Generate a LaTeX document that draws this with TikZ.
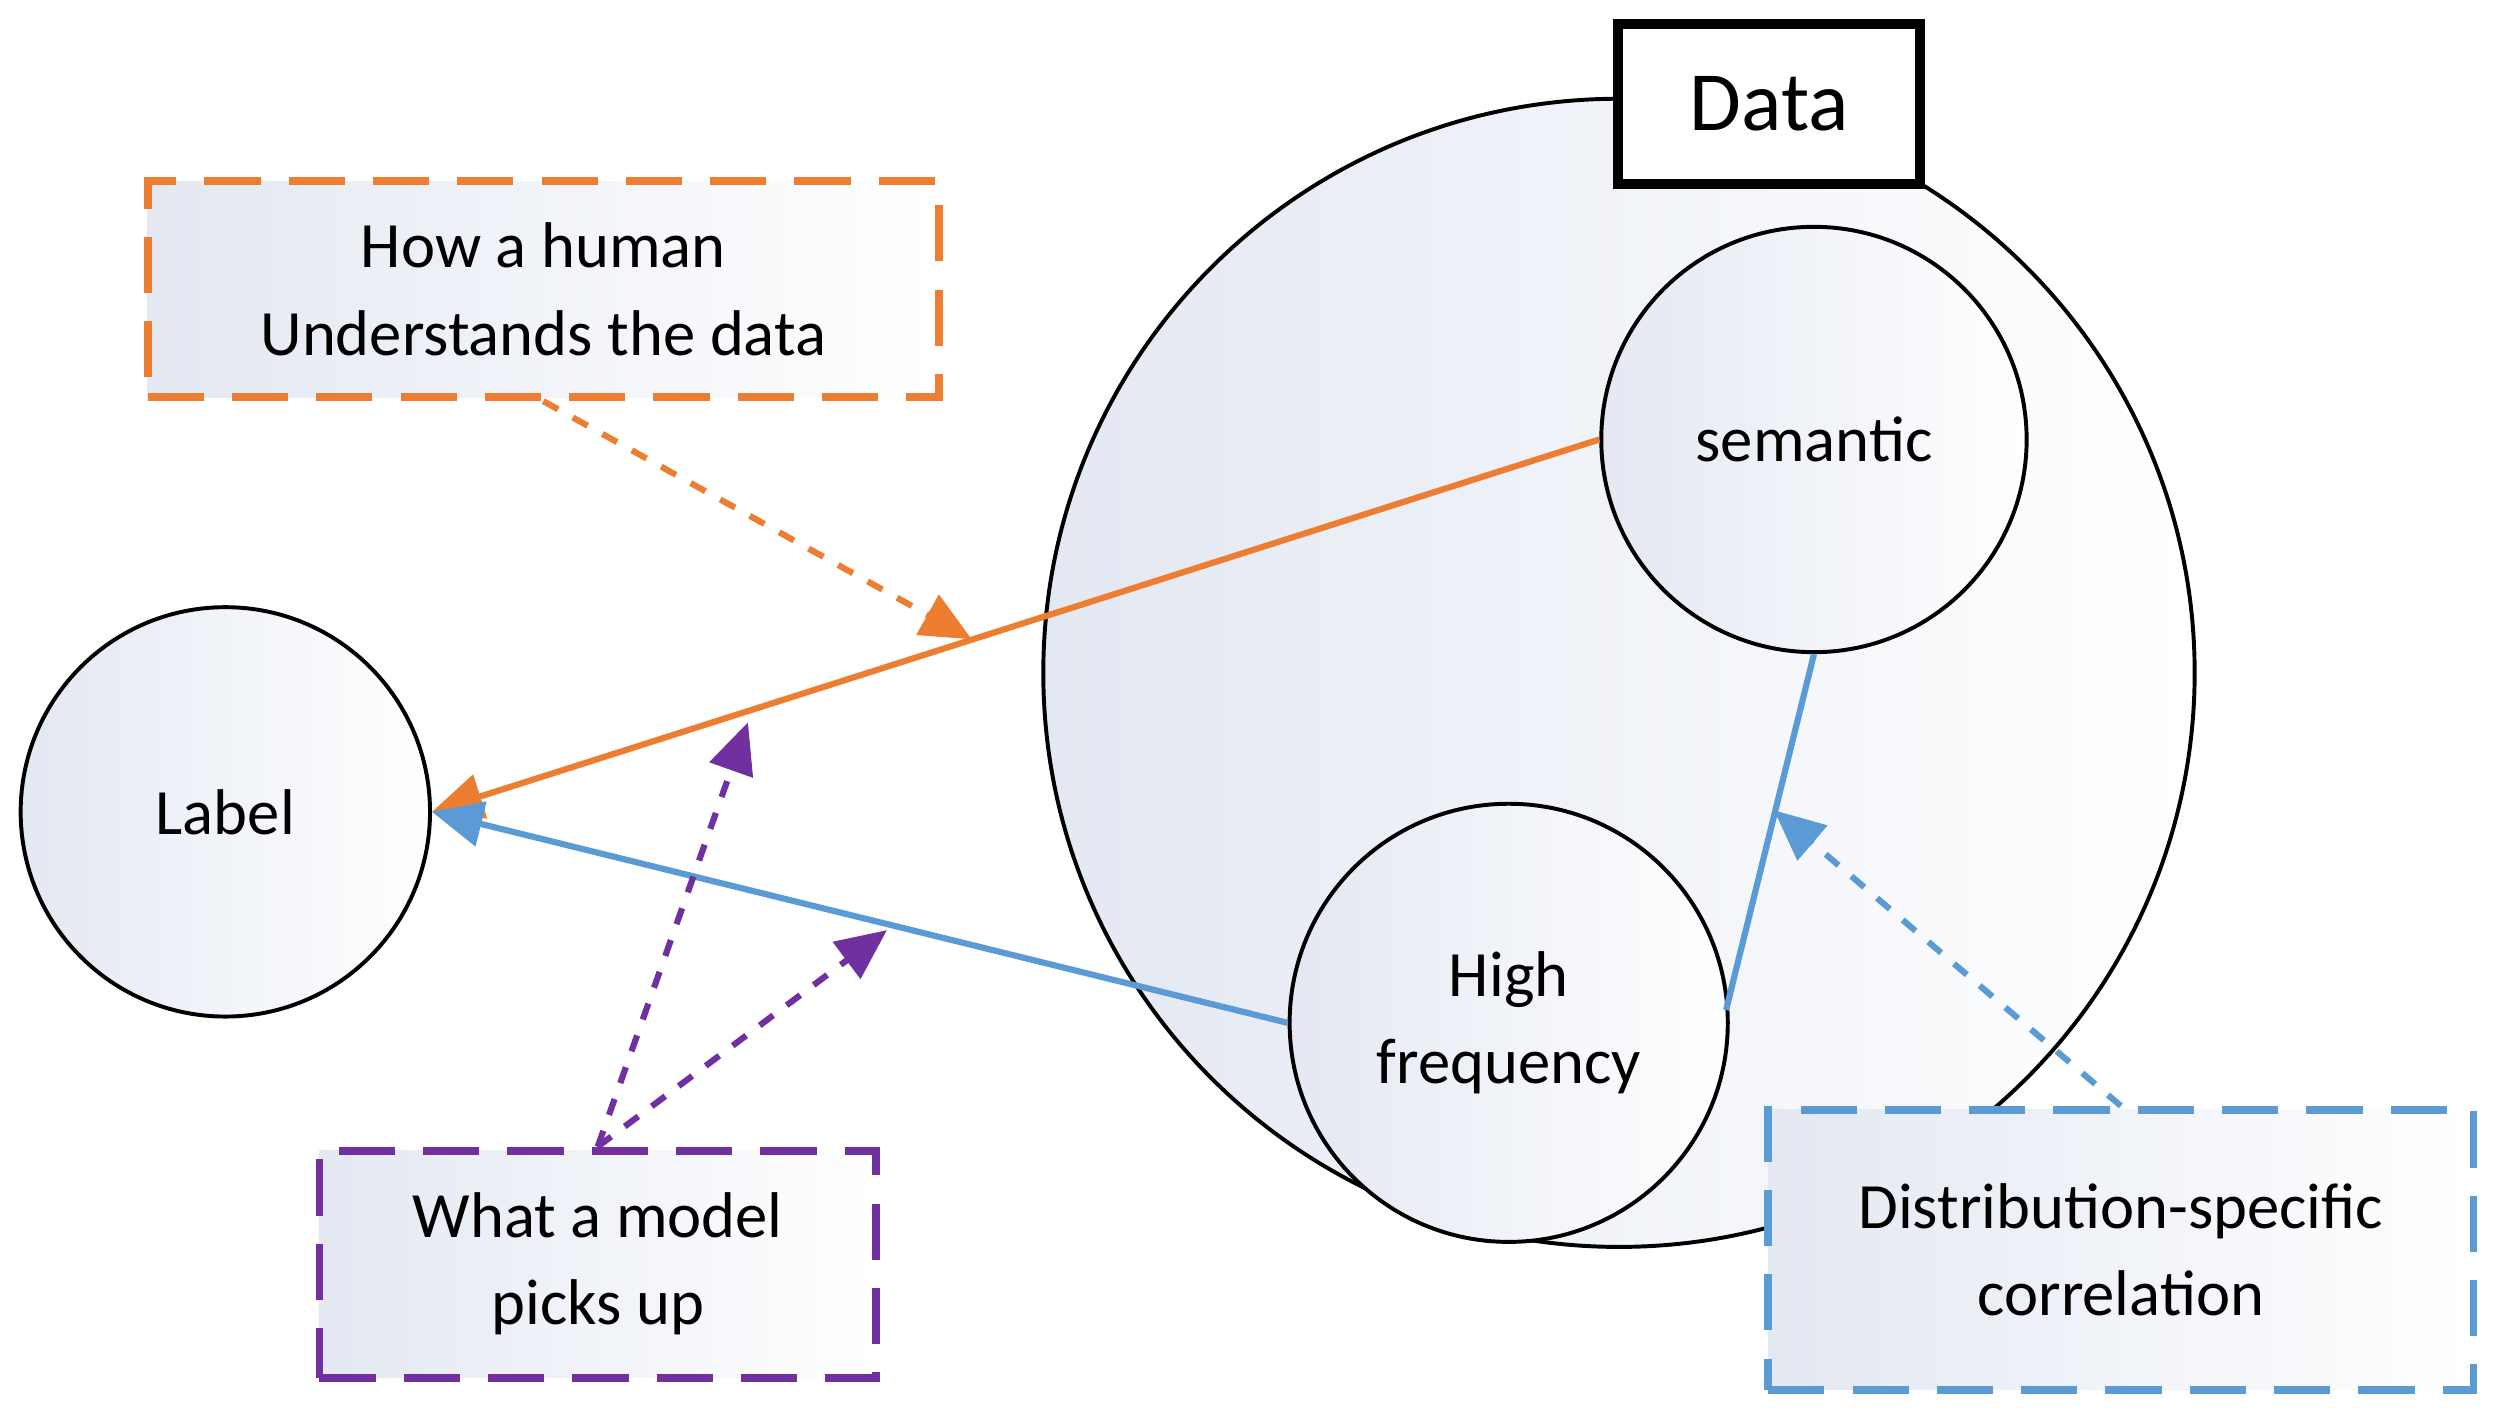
\documentclass[tikz,border=0pt]{standalone}
\usepackage{fontspec}
\setmainfont{Carlito}
\usetikzlibrary{arrows.meta,shapes.geometric}
\definecolor{org}{HTML}{ED7D31}
\definecolor{blu}{HTML}{5B9BD5}
\definecolor{pur}{HTML}{7030A0}
\definecolor{shd}{HTML}{E3E8F2}
\begin{document}
\begin{tikzpicture}[x=0.01cm,y=-0.01cm,
  shd/.style={left color=shd,right color=white},
  circ/.style={circle,draw=black,line width=0.7pt,shd,align=center,font=\fontsize{11.5}{15.5}\selectfont},
  dbox/.style={draw,dash pattern=on 10pt off 5pt,line width=1.4pt,align=center,font=\fontsize{11.5}{15.5}\selectfont,left color=shd,right color=white},
  tip/.style={-{Triangle[length=9pt,width=8pt]}},
  line/.style={line width=1.1pt}]
\useasboundingbox (0,0) rectangle (1568,892);
\node[ellipse, draw, line width=0.7pt, minimum width=7.2cm, minimum height=7.18cm, inner sep=0pt, left color=shd, right color=white] (data) at (1013,421) {};
\node[draw,line width=1.8pt,fill=white,minimum width=1.89cm,minimum height=1.0cm,inner sep=0pt,font=\fontsize{15}{17}\selectfont] (dlab) at (1107,65) {Data};
\node[circ,minimum size=2.66cm,inner sep=0pt] (sem) at (1135,275) {semantic};
\node[circ,minimum size=2.74cm,inner sep=0pt] (hf) at (944,640) {High\\frequency};
\node[circ,minimum size=2.56cm,inner sep=0pt] (lab) at (141,508) {Label};
\node[dbox,draw=org,minimum width=4.95cm,minimum height=1.35cm,inner sep=0pt] (hum) at (340,181) {How a human\\Understands the data};
\node[dbox,draw=pur,minimum width=3.48cm,minimum height=1.42cm,inner sep=0pt] (mod) at (374,791) {What a model\\picks up};
\node[dbox,draw=blu,minimum width=4.41cm,minimum height=1.75cm,inner sep=0pt] (dist) at (1327,782) {Distribution-specific\\correlation};
\coordinate (o1) at (608,400);
\coordinate (p1) at (468,452);
\coordinate (p2) at (555,582);
\coordinate (b1) at (1110,507);
\coordinate (hfr) at (1080,632);
\draw[line,org,tip] (sem.west) -- (lab.east);
\draw[line,blu,tip] (hf.west) -- (lab.east);
\draw[line,blu] (sem.south) -- (hfr);
\draw[line,org,dashed,tip] (hum.south) -- (o1);
\draw[line,pur,dashed,tip] (mod.north) -- (p1);
\draw[line,pur,dashed,tip] (mod.north) -- (p2);
\draw[line,blu,dashed,tip] (dist.north) -- (b1);
\end{tikzpicture}
\end{document}
